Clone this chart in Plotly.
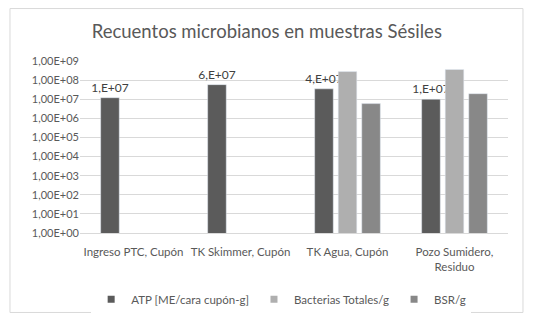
import plotly.graph_objects as go

categories = ["Ingreso PTC, Cupón", "TK Skimmer, Cupón", "TK Agua, Cupón", "Pozo Sumidero,<br>Residuo"]
series_names = ["ATP [ME/cara cupón-g]", "Bacterias Totales/g", "BSR/g"]
atp = [1.2e7, 5.8e7, 3.5e7, 1.0e7]
bacterias = [None, None, 2.8e8, 3.6e8]
bsr = [None, None, 5.9e6, 1.95e7]
atp_labels = ["1,E+07", "6,E+07", "4,E+07", "1,E+07"]
tick_vals = [1e0, 1e1, 1e2, 1e3, 1e4, 1e5, 1e6, 1e7, 1e8, 1e9]
tick_text = ["1,00E+00", "1,00E+01", "1,00E+02", "1,00E+03", "1,00E+04",
             "1,00E+05", "1,00E+06", "1,00E+07", "1,00E+08", "1,00E+09"]
colors = ["#5b5b5b", "#afafaf", "#888888"]

font_family = "Lato, Carlito, Calibri, sans-serif"
txt_color = "#595959"

fig = go.Figure()
fig.add_trace(go.Bar(name=series_names[0], x=categories, y=atp, showlegend=False,
                     marker_color=colors[0], text=atp_labels, textposition="outside",
                     constraintext="none",
                     textfont=dict(size=12, color="#404040", family=font_family),
                     cliponaxis=False))
fig.add_trace(go.Bar(name=series_names[1], x=categories, y=bacterias, showlegend=False,
                     marker_color=colors[1]))
fig.add_trace(go.Bar(name=series_names[2], x=categories, y=bsr, showlegend=False,
                     marker_color=colors[2]))
# legend entries with small square markers
for name, col in zip(series_names, colors):
    fig.add_trace(go.Scatter(name=name, x=[categories[0]], y=[None], mode="markers",
                             marker=dict(symbol="square", size=7, color=col),
                             showlegend=True, hoverinfo="skip"))

fig.update_layout(
    width=539, height=327,
    margin=dict(l=80, r=31, t=61, b=94),
    paper_bgcolor="white", plot_bgcolor="white",
    font=dict(family=font_family, color=txt_color, size=11),
    title=dict(text="Recuentos microbianos en muestras Sésiles", x=0.495, xanchor="center",
               y=0.905, yanchor="middle", font=dict(size=18.5, color=txt_color, family=font_family)),
    barmode="group", bargap=0.34, bargroupgap=0.21,
    showlegend=True,
    legend=dict(orientation="h", x=0.47, xanchor="center", y=-0.385, yanchor="middle",
                font=dict(size=11.5, color=txt_color, family=font_family),
                itemwidth=30, traceorder="normal", tracegroupgap=0),
    shapes=[dict(type="rect", xref="paper", yref="paper", x0=-0.1636, x1=1.035,
                 y0=-0.462, y1=1.305, line=dict(color="#d9d9d9", width=1), fillcolor="rgba(0,0,0,0)",
                 layer="below")],
)
fig.update_xaxes(showline=True, linecolor="#d9d9d9", linewidth=1, ticks="", showgrid=False,
                 ticklabelstandoff=8,
                 tickfont=dict(size=11.5, color=txt_color, family=font_family))
fig.update_yaxes(type="log", range=[0, 9], tickvals=tick_vals, ticktext=tick_text,
                 showgrid=True, gridcolor="#d9d9d9", gridwidth=1, zeroline=False,
                 showline=False, ticks="", ticklen=0,
                 tickfont=dict(size=11, color=txt_color, family=font_family))

fig.write_html("out.html")
